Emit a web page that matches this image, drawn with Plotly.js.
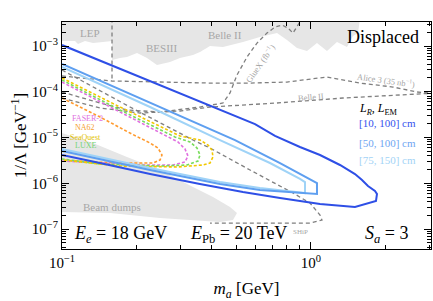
<!DOCTYPE html>
<html><head><meta charset="utf-8">
<script src="https://cdn.plot.ly/plotly-3.0.1.min.js"></script>
<style>html,body{margin:0;padding:0;background:#fff;}#plot{width:433px;height:301px;}</style>
</head><body><div id="plot"></div>
<script>
// ---- data (m_a in GeV, 1/Lambda in GeV^-1) ----
const topRegionM = [0.1,0.1,0.1128,0.1159,0.1237,0.1332,0.1461,0.1588,0.1588,0.171,0.1824,0.2001,0.2195,0.2407,0.2715,0.2978,0.3358,0.3583,0.393,0.4432,0.5332,0.6239,0.7305,0.801,0.8787,0.9637,1.057,1.1594,1.2718,1.395,1.4748,1.545,1.5733];
const topRegionY = [4e-3,1.29e-3,1.29e-3,1.11e-3,1.29e-3,1.16e-3,1.22e-3,1.29e-3,4.94e-4,5.47e-4,5.75e-4,7.03e-4,5.47e-4,3.85e-4,4.47e-4,5.47e-4,6.36e-4,7.40e-4,1.0e-3,9.5e-4,1.22e-3,1.57e-3,1.92e-3,1.35e-3,9.04e-4,7.78e-4,1.16e-3,7.78e-4,1.22e-3,9.5e-4,1.66e-3,1.92e-3,4e-3];

const beamDumpM = [0.1,0.1332,0.1824,0.2475,0.3358,0.404,0.4728,0.5044,0.4861,0.431,0.2475,0.1559,0.1];
const beamDumpY = [1.25e-5,7.58e-6,3.75e-6,1.95e-6,8.28e-7,5.0e-7,3.03e-7,2.24e-7,1.57e-7,1.42e-7,1.74e-7,2.24e-7,2.36e-7];

const besVertM = [0.1588,0.1588];
const besVertY = [4e-3,1.72e-4];

const aliceM = [0.1,0.1588,0.393,0.569,0.801,1.159,1.573,2.135,2.665,3.1];
const aliceY = [2.21e-4,1.72e-4,1.55e-4,1.55e-4,1.63e-4,2.10e-4,1.55e-4,1.27e-4,9.88e-5,9.3e-5];

const gluexM = [0.1,0.1421,0.1824,0.2475,0.3583,0.4432,0.4728,0.5044,0.5534,0.6069,0.6656,0.7171,0.765,0.8085,0.8468,0.8787,0.9033,0.92];
const gluexY = [9.88e-5,5.68e-5,3.99e-5,3.61e-5,4.64e-5,5.68e-5,9.4e-5,2.32e-4,5.75e-4,1.16e-3,1.92e-3,2.60e-3,2.88e-3,2.47e-3,1.92e-3,2.6e-3,3.35e-3,4e-3];

const belleM = [0.1,0.1421,0.2057,0.2978,0.393,0.7305,1.3443,2.215,3.1];
const belleY = [7.3e-5,4.42e-5,3.43e-5,3.80e-5,4.64e-5,5.68e-5,7.3e-5,8.5e-5,9.3e-5];

const shipM = [0.1,0.1876,0.3358,0.393,0.569,0.8468,0.9908,1.087,1.107,0.9908,0.5332,0.393];
const shipY = [2.99e-4,4.64e-5,8.81e-6,5.89e-6,1.95e-6,6.12e-7,3.70e-7,2.02e-7,1.57e-7,1.35e-7,1.35e-7,1.35e-7];

const na62M = [0.1,0.1421,0.1876,0.2257,0.243,0.2521,0.2475,0.2321,0.1824,0.1332,0.1];
const na62Y = [7.3e-5,2.81e-5,1.25e-5,7.58e-6,5.89e-6,4.14e-6,3.22e-6,2.77e-6,2.77e-6,2.91e-6,3.22e-6];

const faserM = [0.1,0.171,0.2592,0.2924,0.3119,0.3206,0.3119,0.2792,0.2115,0.1421,0.1];
const faserY = [1.63e-4,3.61e-5,1.13e-5,7.98e-6,5.61e-6,3.94e-6,2.91e-6,2.51e-6,2.51e-6,2.77e-6,3.06e-6];

const luxeM = [0.1,0.171,0.2843,0.3267,0.3485,0.3583,0.3518,0.3177,0.2475,0.1421,0.1];
const luxeY = [1.81e-4,3.99e-5,1.03e-5,7.98e-6,5.89e-6,4.14e-6,3.06e-6,2.51e-6,2.38e-6,2.64e-6,3.39e-6];

const seaquestM = [0.1,0.171,0.2978,0.3583,0.3859,0.4003,0.404,0.393,0.3685,0.2897,0.171,0.1];
const seaquestY = [2.0e-4,4.64e-5,1.08e-5,8.81e-6,6.85e-6,5.33e-6,3.75e-6,2.77e-6,2.51e-6,2.27e-6,2.38e-6,3.22e-6];

// L in [10,100] cm
const c10M = [0.1,0.2257,0.393,0.596,0.717,0.903,1.087,1.3075,1.502,1.603,1.694,1.807,1.841,1.824,1.502,1.087,0.751,0.533,0.358,0.226,0.142,0.1];
const c10Y = [1.05e-3,1.72e-4,4.88e-5,1.97e-5,1.08e-5,6.2e-6,4.14e-6,2.51e-6,1.59e-6,1.18e-6,8.71e-7,6.77e-7,5.82e-7,4.09e-7,3.03e-7,3.52e-7,4.76e-7,6.44e-7,9.63e-7,1.59e-6,2.77e-6,4.14e-6];
// L in [50,100] cm
const c50M = [0.1,0.2257,0.4952,0.751,0.9908,1.057,1.057,0.6239,0.431,0.2257,0.1];
const c50Y = [4.04e-4,5.68e-5,8.81e-6,2.77e-6,1.24e-6,1.01e-6,5.82e-7,7.12e-7,9.63e-7,1.95e-6,5.07e-6];
// L in [75,150] cm
const c75M = [0.1,0.2257,0.431,0.6843,0.9033,0.9461,0.9461,0.6239,0.431,0.2257,0.1];
const c75Y = [3.48e-4,4.64e-5,8.81e-6,2.77e-6,1.24e-6,1.06e-6,6.12e-7,7.87e-7,1.06e-6,2.16e-6,5.61e-6];

const xMajor = [0.1, 1];
const xMajorText = ['10<sup>−1</sup>', '10<sup>0</sup>'];
const yMajor = [1e-7, 1e-6, 1e-5, 1e-4, 1e-3];
const yMajorText = ['10<sup>−7</sup>', '10<sup>−6</sup>', '10<sup>−5</sup>', '10<sup>−4</sup>', '10<sup>−3</sup>'];

// ---- build ----
const xMinor = [];
[0.1, 1].forEach(d => { for (let k = 2; k <= 9; k++) xMinor.push(k * d); });
const yMinor = [];
[1e-8, 1e-7, 1e-6, 1e-5, 1e-4, 1e-3].forEach(d => { for (let k = 2; k <= 9; k++) yMinor.push(k * d); });

const GRAYFILL = '#e6e6e6';
const DGRAY = '#7f7f7f';
function region(x, y) {
  return {x, y, type: 'scatter', mode: 'lines', fill: 'toself', fillcolor: GRAYFILL,
          line: {width: 0, color: GRAYFILL}, hoverinfo: 'skip'};
}
function dashed(x, y, color, dash, w) {
  return {x, y, type: 'scatter', mode: 'lines', line: {color, width: w, dash}, hoverinfo: 'skip'};
}
function solid(x, y, color) {
  return {x, y, type: 'scatter', mode: 'lines', line: {color, width: 2}, hoverinfo: 'skip'};
}

const traces = [
  region(topRegionM, topRegionY),
  region(beamDumpM, beamDumpY),
  dashed(besVertM, besVertY, DGRAY, '4px,3px', 1.3),
  dashed(aliceM, aliceY, DGRAY, '4px,3px', 1.3),
  dashed(gluexM, gluexY, DGRAY, '4px,3px', 1.3),
  dashed(belleM, belleY, DGRAY, '4px,3px', 1.3),
  dashed(shipM, shipY, DGRAY, '4px,3px', 1.3),
  dashed(na62M, na62Y, '#ff9a2e', '3px,2px', 1.6),
  dashed(faserM, faserY, '#e070e0', '3px,2px', 1.6),
  dashed(luxeM, luxeY, '#78dc5a', '3px,2px', 1.6),
  dashed(seaquestM, seaquestY, '#f2c800', '3px,2px', 1.6),
  solid(c75M, c75Y, '#9fd3f7'),
  solid(c50M, c50Y, '#5e9ff0'),
  solid(c10M, c10Y, '#2e4fe6')
];

const SERIF = 'Liberation Serif, DejaVu Serif, serif';
function ann(text, x, y, size, color, opts) {
  return Object.assign({text, x, y, xref: 'paper', yref: 'paper', showarrow: false,
    xanchor: 'center', yanchor: 'middle',
    font: {family: SERIF, size, color}}, opts || {});
}
const LG = '#a6a6a6';
const annotations = [
  ann('LEP', 0.076, 0.952, 11, LG),
  ann('BESIII', 0.271, 0.885, 11, LG),
  ann('Belle II', 0.441, 0.943, 11, LG),
  ann('Displaced', 0.870, 0.936, 18, '#000'),
  ann('GlueX (fb<sup>−1</sup>)', 0.537, 0.819, 8.5, LG, {textangle: -55}),
  ann('Alice 3 (35 nb<sup>−1</sup>)', 0.878, 0.742, 8.5, LG, {textangle: 8}),
  ann('Belle II', 0.675, 0.668, 8.5, LG, {textangle: -5}),
  ann('<i>L<sub>R</sub></i>, <i>L</i><sub>EM</sub>', 0.799, 0.617, 12, '#000', {xanchor: 'left'}),
  ann('[10, 100] cm', 0.799, 0.553, 11, '#3553ee', {xanchor: 'left'}),
  ann('[50, 100] cm', 0.799, 0.467, 11, '#6fa6f2', {xanchor: 'left'}),
  ann('[75, 150] cm', 0.799, 0.392, 11, '#a3d3f6', {xanchor: 'left'}),
  ann('FASER-2', 0.068, 0.577, 8, '#e070e0'),
  ann('NA62', 0.062, 0.537, 8, '#f5a030'),
  ann('SeaQuest', 0.065, 0.493, 8, '#e2bf00'),
  ann('LUXE', 0.065, 0.454, 8, '#74d474'),
  ann('Beam dumps', 0.1355, 0.185, 11, LG),
  ann('SHiP', 0.645, 0.075, 7, LG),
  ann('<i>E<sub>e</sub></i> = 18 GeV', 0.027, 0.062, 18, '#000', {xanchor: 'left'}),
  ann('<i>E</i><sub>Pb</sub> = 20 TeV', 0.341, 0.062, 18, '#000', {xanchor: 'left'}),
  ann('<i>S<sub>a</sub></i> = 3', 0.943, 0.062, 18, '#000', {xanchor: 'right'})
];

const axisCommon = {
  showline: true, linecolor: '#000', linewidth: 1.2, mirror: 'allticks',
  ticks: 'inside', ticklen: 7, tickwidth: 1, tickcolor: '#000',
  showgrid: false, zeroline: false,
  tickfont: {family: SERIF, size: 15, color: '#000'}
};

const layout = {
  width: 433, height: 301,
  margin: {l: 62, r: 2, t: 22, b: 52},
  paper_bgcolor: '#fff', plot_bgcolor: '#fff',
  showlegend: false,
  xaxis: Object.assign({}, axisCommon, {
    type: 'log', range: [-1, 0.482],
    tickmode: 'array', tickvals: xMajor, ticktext: xMajorText,
    minor: {tickmode: 'array', tickvals: xMinor, ticks: 'inside', ticklen: 4, tickcolor: '#000', tickwidth: 1},
    title: {text: '<i>m<sub>a</sub></i> [GeV]', font: {family: SERIF, size: 17, color: '#000'}, standoff: 16}
  }),
  yaxis: Object.assign({}, axisCommon, {
    type: 'log', range: [-7.437, -2.475],
    tickmode: 'array', tickvals: yMajor, ticktext: yMajorText,
    minor: {tickmode: 'array', tickvals: yMinor, ticks: 'inside', ticklen: 4, tickcolor: '#000', tickwidth: 1},
    title: {text: '1/Λ [GeV<sup>−1</sup>]', font: {family: SERIF, size: 17, color: '#000'}, standoff: 0}
  }),
  annotations
};

Plotly.newPlot('plot', traces, layout, {displayModeBar: false});
</script>
</body></html>
